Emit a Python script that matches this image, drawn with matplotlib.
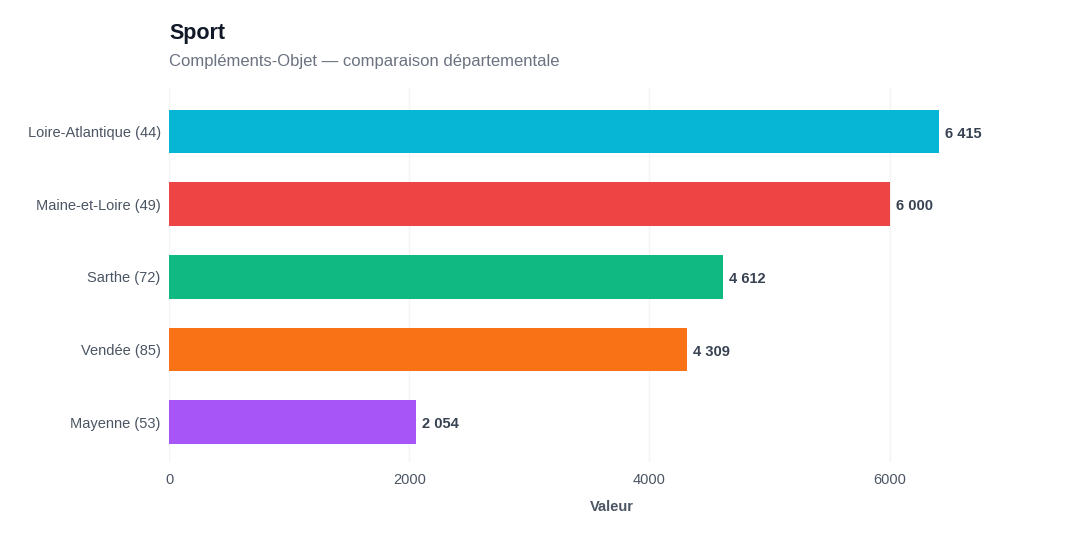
import matplotlib
matplotlib.use("Agg")
import matplotlib.pyplot as plt

plt.rcParams['font.family'] = ['Liberation Sans', 'DejaVu Sans']

categories = ["Loire-Atlantique (44)", "Maine-et-Loire (49)", "Sarthe (72)", "Vendée (85)", "Mayenne (53)"]
values = [6415, 6000, 4612, 4309, 2054]
colors = ["#06b6d4", "#ef4444", "#10b981", "#f97316", "#a855f7"]
labels = ["6 415", "6 000", "4 612", "4 309", "2 054"]
xticks = [0, 2000, 4000, 6000]

fig = plt.figure(figsize=(10.8, 5.4), dpi=100)
ax = fig.add_axes([169/1080, 1-462/540, (1055-169)/1080, (462-88)/540])

pos = list(range(len(categories)))
ax.barh(pos, values, height=0.6, color=colors, zorder=3)
for p, v, l in zip(pos, values, labels):
    ax.text(v + 50, p + 0.03, l, va='center', ha='left', fontsize=10.5, fontweight='bold', color='#374151')

ax.set_ylim(4.55, -0.6)
ax.set_xlim(0, 7377)
ax.set_yticks(pos)
ax.set_yticklabels(categories)
ax.set_xticks(xticks)
ax.set_xticklabels([str(t) for t in xticks])
ax.tick_params(axis='both', length=0, labelsize=10.5, colors='#4b5563', pad=8)
ax.tick_params(axis='y', pad=6)
ax.grid(axis='x', color='#f3f4f6', linewidth=1.0, zorder=0)
for s in ax.spines.values():
    s.set_visible(False)
ax.set_xlabel("Valeur", fontsize=10.5, fontweight='bold', color='#4b5563', labelpad=9)

fig.text(169/1080, 1-34/540, "Sport", fontsize=15.5, fontweight='bold', color='#111827', va='center', ha='left')
fig.text(169/1080, 1-61.5/540, "Compléments-Objet — comparaison départementale", fontsize=12, color='#6b7280', va='center', ha='left')

fig.savefig("out.png", dpi=100, facecolor='white')
